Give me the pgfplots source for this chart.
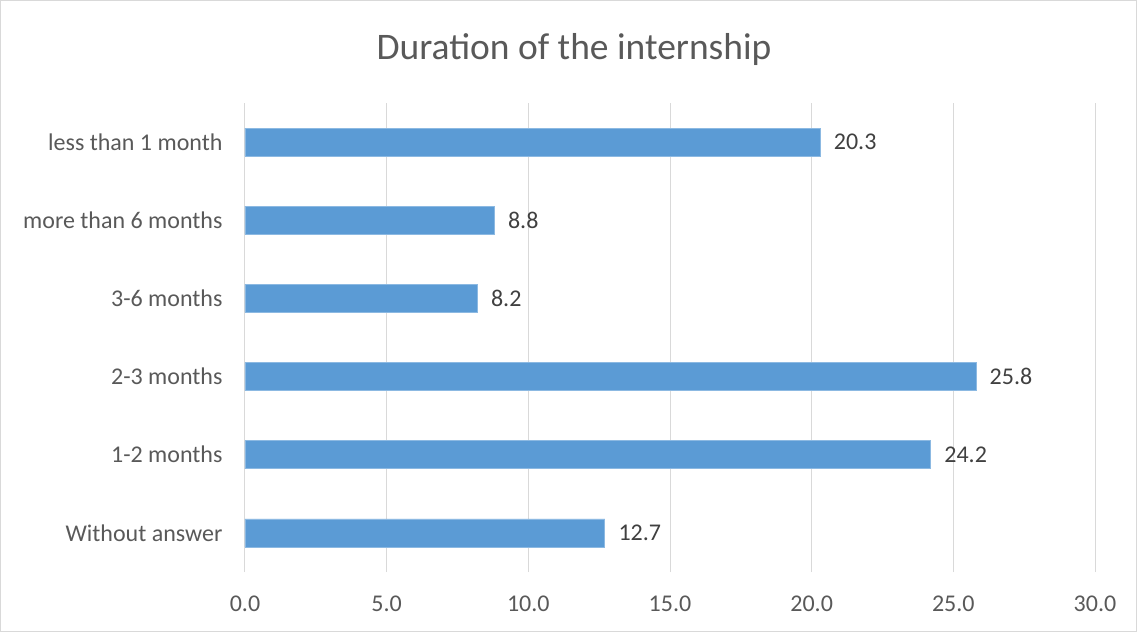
\documentclass[border=0pt]{standalone}
\usepackage{pgfplots}
\pgfplotsset{compat=1.18}
\usepackage{fontspec}
\setmainfont{Carlito}
\definecolor{barblue}{HTML}{5B9BD5}
\definecolor{txtgray}{HTML}{595959}
\definecolor{gridgray}{HTML}{D9D9D9}
\begin{document}
\begin{tikzpicture}[x=1pt,y=1pt]
\draw[gridgray,line width=1pt] (0.5,0.5) rectangle (1136.5,631.5);
\node[txtgray,font=\fontsize{37.5}{42}\selectfont] at (574,582) {Duration of the internship};
\begin{axis}[
  at={(245pt,60pt)}, anchor=south west,
  scale only axis, width=850pt, height=469pt,
  xmin=0, xmax=30, ymin=-0.5, ymax=5.5,
  xtick={0,5,...,30},
  ytick={0,1,2,3,4,5},
  yticklabels={Without answer,1-2 months,2-3 months,3-6 months,more than 6 months,less than 1 month},
  xticklabel style={/pgf/number format/fixed,/pgf/number format/fixed zerofill,/pgf/number format/precision=1},
  /pgf/number format/assume math mode=true,
  major tick length=0pt,
  axis line style={draw=none},
  xmajorgrids, grid style={gridgray,line width=1pt},
  tick label style={txtgray,font=\fontsize{24}{28}\selectfont},
  xticklabel shift=20pt,
  yticklabel shift=19pt,
  xbar, bar width=28pt,
  nodes near coords,
  nodes near coords style={/pgf/number format/fixed,/pgf/number format/fixed zerofill,/pgf/number format/precision=1,color=black!75,font=\fontsize{24}{28}\selectfont,xshift=10pt},
]
\addplot[fill=barblue,draw=barblue!70!white,line width=0.8pt] coordinates {
(12.7,0) (24.2,1) (25.8,2) (8.2,3) (8.8,4) (20.3,5)};
\end{axis}
\end{tikzpicture}
\end{document}
